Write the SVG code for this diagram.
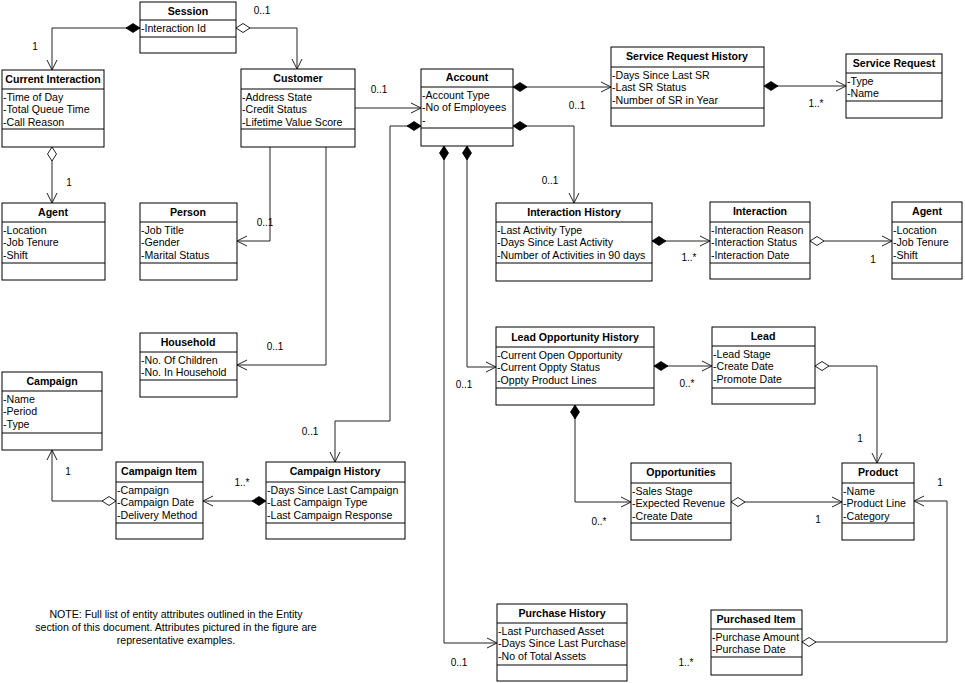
<svg xmlns="http://www.w3.org/2000/svg" width="965" height="683" viewBox="0 0 965 683">
<style>
.box rect{fill:#fff;stroke:#000;stroke-width:1}
.box line{stroke:#000;stroke-width:1}
.t{font-family:"Liberation Sans",Arial,sans-serif;font-size:10.6px;font-weight:bold;text-anchor:middle;fill:#000}
.a{font-family:"Liberation Sans",Arial,sans-serif;font-size:10.6px;fill:#000}
.lbl{font-family:"Liberation Sans",Arial,sans-serif;font-size:10px;text-anchor:middle;fill:#000}
.note{font-family:"Liberation Sans",Arial,sans-serif;font-size:10.6px;text-anchor:middle;fill:#000}
#connectors path{fill:none;stroke:#222;stroke-width:1}
.fd{marker-start:url(#fd);marker-end:url(#ar)}
.od{marker-start:url(#od);marker-end:url(#ar)}
.na{marker-end:url(#ar)}
</style>
<defs>
<marker id="fd" viewBox="-1 -6 16 12" refX="0" refY="0" markerWidth="16" markerHeight="12" orient="auto" markerUnits="userSpaceOnUse"><path d="M0,0 L7,-4.5 L14,0 L7,4.5 Z" fill="#000" stroke="#000" stroke-width="0.8"/></marker>
<marker id="od" viewBox="-1 -6 16 12" refX="0" refY="0" markerWidth="16" markerHeight="12" orient="auto" markerUnits="userSpaceOnUse"><path d="M0,0 L7,-4.5 L14,0 L7,4.5 Z" fill="#fff" stroke="#222" stroke-width="1"/></marker>
<marker id="ar" viewBox="-12 -6 13 12" refX="0" refY="0" markerWidth="13" markerHeight="12" orient="auto" markerUnits="userSpaceOnUse"><path d="M-10,-5 L0,0 L-10,5" fill="none" stroke="#222" stroke-width="1"/></marker>
</defs>
<rect x="0" y="0" width="965" height="683" fill="#fff"/>

<g id="connectors">
<path class="fd" d="M140,28 H52 V70"/>
<path class="od" d="M236,28 H297 V69"/>
<path class="od" d="M52,147 V203"/>
<path class="na" d="M270,147 V241 H237"/>
<path class="na" d="M326,147 V365 H237"/>
<path class="na" d="M355,108 H421"/>
<path class="fd" d="M421,126 H390 V421 H335 V462"/>
<path class="fd" d="M513,87 H611"/>
<path class="fd" d="M513,126 H574 V203"/>
<path class="fd" d="M467,146 V367 H496"/>
<path class="fd" d="M444,146 V643 H497"/>
<path class="fd" d="M764,86 H846"/>
<path class="fd" d="M652,241 H710"/>
<path class="od" d="M810,241 H892"/>
<path class="fd" d="M654,366 H712"/>
<path class="fd" d="M575,405 V502 H631"/>
<path class="od" d="M815,366 H877 V463"/>
<path class="od" d="M731,502 H842"/>
<path class="od" d="M802,642 H947 V501 H914"/>
<path class="fd" d="M266,501 H203"/>
<path class="od" d="M116,501 H52 V450"/>
</g>

<g id="labels">
<text class="lbl" x="35" y="50">1</text>
<text class="lbl" x="262" y="14">0..1</text>
<text class="lbl" x="69" y="186">1</text>
<text class="lbl" x="265" y="226">0..1</text>
<text class="lbl" x="275" y="350">0..1</text>
<text class="lbl" x="379" y="93">0..1</text>
<text class="lbl" x="310" y="435">0..1</text>
<text class="lbl" x="577" y="109">0..1</text>
<text class="lbl" x="550" y="184">0..1</text>
<text class="lbl" x="464" y="388">0..1</text>
<text class="lbl" x="459" y="666">0..1</text>
<text class="lbl" x="816" y="107">1..*</text>
<text class="lbl" x="689" y="261">1..*</text>
<text class="lbl" x="873" y="263">1</text>
<text class="lbl" x="687" y="387">0..*</text>
<text class="lbl" x="599" y="525">0..*</text>
<text class="lbl" x="860" y="442">1</text>
<text class="lbl" x="818" y="523">1</text>
<text class="lbl" x="686" y="666">1..*</text>
<text class="lbl" x="940" y="486">1</text>
<text class="lbl" x="242" y="486">1..*</text>
<text class="lbl" x="68" y="475">1</text>
</g>

<g id="session" class="box"><rect x="140" y="2" width="96" height="51"/><line x1="140" y1="20" x2="236" y2="20"/><line x1="140" y1="37" x2="236" y2="37"/>
<text class="t" x="188" y="15">Session</text><text class="a" x="141" y="32">-Interaction Id</text></g>

<g id="current-interaction" class="box"><rect x="2" y="70" width="102" height="77"/><line x1="2" y1="89" x2="104" y2="89"/><line x1="2" y1="129" x2="104" y2="129"/>
<text class="t" x="53" y="83">Current Interaction</text><text class="a" x="3" y="100.5">-Time of Day</text><text class="a" x="3" y="113.2">-Total Queue Time</text><text class="a" x="3" y="125.9">-Call Reason</text></g>

<g id="customer" class="box"><rect x="241" y="69" width="114" height="78"/><line x1="241" y1="89" x2="355" y2="89"/><line x1="241" y1="129" x2="355" y2="129"/>
<text class="t" x="298" y="82">Customer</text><text class="a" x="242" y="100.5">-Address State</text><text class="a" x="242" y="113.2">-Credit Status</text><text class="a" x="242" y="125.9">-Lifetime Value Score</text></g>

<g id="agent-left" class="box"><rect x="2" y="203" width="103" height="77"/><line x1="2" y1="222" x2="105" y2="222"/><line x1="2" y1="263" x2="105" y2="263"/>
<text class="t" x="53" y="216">Agent</text><text class="a" x="3" y="233.5">-Location</text><text class="a" x="3" y="246.2">-Job Tenure</text><text class="a" x="3" y="258.9">-Shift</text></g>

<g id="person" class="box"><rect x="140" y="203" width="97" height="77"/><line x1="140" y1="222" x2="237" y2="222"/><line x1="140" y1="263" x2="237" y2="263"/>
<text class="t" x="188" y="216">Person</text><text class="a" x="141" y="233.5">-Job Title</text><text class="a" x="141" y="246.2">-Gender</text><text class="a" x="141" y="258.9">-Marital Status</text></g>

<g id="household" class="box"><rect x="140" y="333" width="97" height="64"/><line x1="140" y1="352" x2="237" y2="352"/><line x1="140" y1="380" x2="237" y2="380"/>
<text class="t" x="188" y="346">Household</text><text class="a" x="141" y="363.5">-No. Of Children</text><text class="a" x="141" y="376.2">-No. In Household</text></g>

<g id="campaign" class="box"><rect x="2" y="372" width="100" height="78"/><line x1="2" y1="391" x2="102" y2="391"/><line x1="2" y1="433" x2="102" y2="433"/>
<text class="t" x="52" y="385">Campaign</text><text class="a" x="3" y="402.5">-Name</text><text class="a" x="3" y="415.2">-Period</text><text class="a" x="3" y="427.9">-Type</text></g>

<g id="campaign-item" class="box"><rect x="116" y="462" width="87" height="77"/><line x1="116" y1="482" x2="203" y2="482"/><line x1="116" y1="523" x2="203" y2="523"/>
<text class="t" x="159" y="475">Campaign Item</text><text class="a" x="117" y="493.5">-Campaign</text><text class="a" x="117" y="506.2">-Campaign Date</text><text class="a" x="117" y="518.9">-Delivery Method</text></g>

<g id="campaign-history" class="box"><rect x="266" y="462" width="139" height="77"/><line x1="266" y1="482" x2="405" y2="482"/><line x1="266" y1="523" x2="405" y2="523"/>
<text class="t" x="335" y="475">Campaign History</text><text class="a" x="267" y="493.5">-Days Since Last Campaign</text><text class="a" x="267" y="506.2">-Last Campaign Type</text><text class="a" x="267" y="518.9">-Last Campaign Response</text></g>

<g id="account" class="box"><rect x="421" y="69" width="92" height="77"/><line x1="421" y1="87" x2="513" y2="87"/><line x1="421" y1="128" x2="513" y2="128"/>
<text class="t" x="467" y="81">Account</text><text class="a" x="422" y="98.5">-Account Type</text><text class="a" x="422" y="111.2">-No of Employees</text><text class="a" x="422" y="123.9">-</text></g>

<g id="service-request-history" class="box"><rect x="611" y="47" width="153" height="79"/><line x1="611" y1="67" x2="764" y2="67"/><line x1="611" y1="108" x2="764" y2="108"/>
<text class="t" x="687" y="60">Service Request History</text><text class="a" x="612" y="78.5">-Days Since Last SR</text><text class="a" x="612" y="91.2">-Last SR Status</text><text class="a" x="612" y="103.9">-Number of SR in Year</text></g>

<g id="service-request" class="box"><rect x="846" y="54" width="96" height="64"/><line x1="846" y1="73" x2="942" y2="73"/><line x1="846" y1="101" x2="942" y2="101"/>
<text class="t" x="894" y="67">Service Request</text><text class="a" x="847" y="84.5">-Type</text><text class="a" x="847" y="97.2">-Name</text></g>

<g id="interaction-history" class="box"><rect x="496" y="203" width="156" height="78"/><line x1="496" y1="222" x2="652" y2="222"/><line x1="496" y1="263" x2="652" y2="263"/>
<text class="t" x="574" y="216">Interaction History</text><text class="a" x="497" y="233.5">-Last Activity Type</text><text class="a" x="497" y="246.2">-Days Since Last Activity</text><text class="a" x="497" y="258.9">-Number of Activities in 90 days</text></g>

<g id="interaction" class="box"><rect x="710" y="202" width="100" height="77"/><line x1="710" y1="222" x2="810" y2="222"/><line x1="710" y1="263" x2="810" y2="263"/>
<text class="t" x="760" y="215">Interaction</text><text class="a" x="711" y="233.5">-Interaction Reason</text><text class="a" x="711" y="246.2">-Interaction Status</text><text class="a" x="711" y="258.9">-Interaction Date</text></g>

<g id="agent-right" class="box"><rect x="892" y="202" width="70" height="77"/><line x1="892" y1="222" x2="962" y2="222"/><line x1="892" y1="263" x2="962" y2="263"/>
<text class="t" x="927" y="215">Agent</text><text class="a" x="893" y="233.5">-Location</text><text class="a" x="893" y="246.2">-Job Tenure</text><text class="a" x="893" y="258.9">-Shift</text></g>

<g id="lead-opportunity-history" class="box"><rect x="496" y="327" width="158" height="78"/><line x1="496" y1="347" x2="654" y2="347"/><line x1="496" y1="388" x2="654" y2="388"/>
<text class="t" x="575" y="341">Lead Opportunity History</text><text class="a" x="497" y="358.5">-Current Open Opportunity</text><text class="a" x="497" y="371.2">-Current Oppty Status</text><text class="a" x="497" y="383.9">-Oppty Product Lines</text></g>

<g id="lead" class="box"><rect x="712" y="327" width="103" height="77"/><line x1="712" y1="346" x2="815" y2="346"/><line x1="712" y1="388" x2="815" y2="388"/>
<text class="t" x="763" y="340">Lead</text><text class="a" x="713" y="357.5">-Lead Stage</text><text class="a" x="713" y="370.2">-Create Date</text><text class="a" x="713" y="382.9">-Promote Date</text></g>

<g id="opportunities" class="box"><rect x="631" y="463" width="100" height="77"/><line x1="631" y1="483" x2="731" y2="483"/><line x1="631" y1="523" x2="731" y2="523"/>
<text class="t" x="681" y="476">Opportunities</text><text class="a" x="632" y="494.5">-Sales Stage</text><text class="a" x="632" y="507.2">-Expected Revenue</text><text class="a" x="632" y="519.9">-Create Date</text></g>

<g id="product" class="box"><rect x="842" y="463" width="72" height="77"/><line x1="842" y1="483" x2="914" y2="483"/><line x1="842" y1="523" x2="914" y2="523"/>
<text class="t" x="878" y="476">Product</text><text class="a" x="843" y="494.5">-Name</text><text class="a" x="843" y="507.2">-Product Line</text><text class="a" x="843" y="519.9">-Category</text></g>

<g id="purchase-history" class="box"><rect x="497" y="604" width="130" height="77"/><line x1="497" y1="623" x2="627" y2="623"/><line x1="497" y1="665" x2="627" y2="665"/>
<text class="t" x="562" y="617">Purchase History</text><text class="a" x="498" y="634.5">-Last Purchased Asset</text><text class="a" x="498" y="647.2">-Days Since Last Purchase</text><text class="a" x="498" y="659.9">-No of Total Assets</text></g>

<g id="purchased-item" class="box"><rect x="711" y="610" width="91" height="65"/><line x1="711" y1="629" x2="802" y2="629"/><line x1="711" y1="657" x2="802" y2="657"/>
<text class="t" x="756" y="623">Purchased Item</text><text class="a" x="712" y="640.5">-Purchase Amount</text><text class="a" x="712" y="653.2">-Purchase Date</text></g>

<g id="note">
<text class="note" x="176" y="618">NOTE: Full list of entity attributes outlined in the Entity</text>
<text class="note" x="176" y="631">section of this document.  Attributes pictured in the figure are</text>
<text class="note" x="176" y="644">representative examples.</text>
</g>
</svg>
